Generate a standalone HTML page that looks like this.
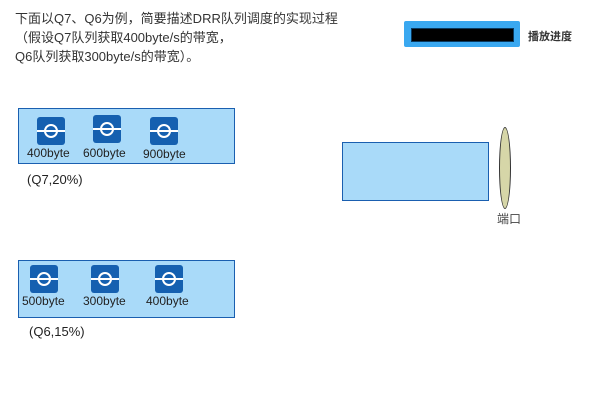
<!DOCTYPE html>
<html><head><meta charset="utf-8"><style>
body{margin:0;width:600px;height:400px;background:#fff;position:relative;overflow:hidden;font-family:"Liberation Sans","Noto Sans CJK SC",sans-serif;}
.a{position:absolute;}
.t{color:#333;font-size:13px;line-height:19px;left:15px;top:9px;white-space:nowrap}
.box{background:#a9daf9;border:1px solid #1a5fb0;}
.ic{position:absolute;width:28px;height:28px;background:#1560b0;border-radius:3px;}
.ic:before{content:"";position:absolute;left:7px;top:7px;width:10px;height:10px;border:2px solid #fff;border-radius:50%;}
.ic:after{content:"";position:absolute;left:0;right:0;top:13px;height:2px;background:#fff;}
.lb{position:absolute;font-size:12px;color:#222;}
</style></head><body>
<div class="a t">下面以Q7、Q6为例，简要描述DRR队列调度的实现过程<br>（假设Q7队列获取400byte/s的带宽，<br>Q6队列获取300byte/s的带宽）。</div>
<div class="a" style="left:404px;top:21px;width:116px;height:26px;background:#3aa8f0;border-radius:2px"></div>
<div class="a" style="left:411px;top:28px;width:101px;height:12px;background:#000;border:1px solid #0a3a60"></div>
<div class="a" style="left:528px;top:28px;font-size:11px;font-weight:bold;color:#333">播放进度</div>

<div class="a box" style="left:18px;top:108px;width:215px;height:54px">
<div class="ic" style="left:18px;top:8px"></div>
<div class="ic" style="left:74px;top:6px"></div>
<div class="ic" style="left:131px;top:8px"></div>
<div class="lb" style="left:8px;top:37px">400byte</div>
<div class="lb" style="left:64px;top:37px">600byte</div>
<div class="lb" style="left:124px;top:38px">900byte</div>
</div>
<div class="a" style="left:27px;top:172px;font-size:13px;color:#222">(Q7,20%)</div>

<div class="a box" style="left:18px;top:260px;width:215px;height:56px">
<div class="ic" style="left:11px;top:4px"></div>
<div class="ic" style="left:72px;top:4px"></div>
<div class="ic" style="left:136px;top:4px"></div>
<div class="lb" style="left:3px;top:33px">500byte</div>
<div class="lb" style="left:64px;top:33px">300byte</div>
<div class="lb" style="left:127px;top:33px">400byte</div>
</div>
<div class="a" style="left:29px;top:324px;font-size:13px;color:#222">(Q6,15%)</div>

<div class="a box" style="left:342px;top:142px;width:145px;height:57px"></div>
<div class="a" style="left:499px;top:127px;width:10px;height:80px;background:#d6d6a8;border:1px solid #333;border-radius:50%"></div>
<div class="a" style="left:497px;top:210px;font-size:12px;color:#444">端口</div>
</body></html>
